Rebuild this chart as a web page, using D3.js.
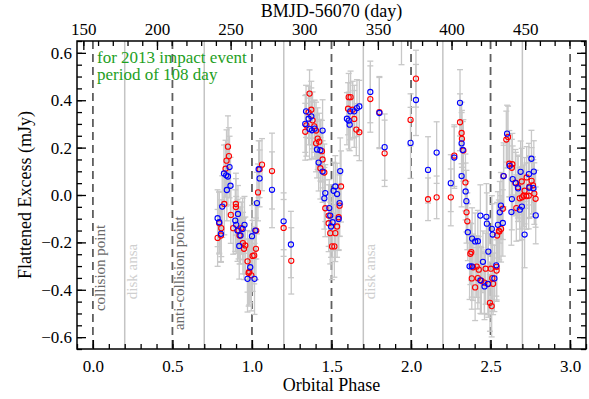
<!DOCTYPE html>
<html>
<head>
<meta charset="utf-8">
<script src="https://cdn.jsdelivr.net/npm/d3@7"></script>
<style>
    body { margin: 0; background: #fff; }
    svg text { font-family: "Liberation Serif", "DejaVu Serif", serif; }
</style>
</head>
<body>
<div id="chart"></div>
<script>
// Light curve points: [orbital phase, flattened excess (mJy), error]
var redPoints = [
    [0.784,-0.181,0.12],[0.794,-0.119,0.13],[0.807,-0.140,0.12],[0.805,-0.171,0.11],[0.826,-0.038,0.13],
    [0.834,0.111,0.12],[0.840,0.145,0.13],[0.855,0.164,0.12],[0.849,0.204,0.13],[0.867,-0.084,0.12],
    [0.899,-0.038,0.13],[0.899,-0.051,0.12],[0.882,-0.140,0.11],[0.916,-0.150,0.12],[0.933,-0.140,0.11],
    [0.922,-0.171,0.12],[0.943,-0.203,0.13],[0.958,-0.213,0.12],[0.950,-0.227,0.13],[0.983,-0.324,0.14],
    [0.996,-0.339,0.15],[0.972,-0.280,0.13],[0.979,-0.329,0.14],[1.004,-0.257,0.15],[1.014,-0.255,0.12],
    [1.025,-0.227,0.13],[1.027,-0.150,0.12],[1.038,0.011,0.12],[1.048,0.109,0.12],[1.063,0.128,0.11],
    [1.126,0.101,0.16],[1.199,-0.139,0.12],[1.247,-0.278,0.14],
    [1.362,0.428,0.10],[1.373,0.360,0.12],[1.356,0.349,0.11],[1.381,0.315,0.12],[1.342,0.294,0.13],
    [1.335,0.267,0.12],[1.392,0.290,0.11],[1.403,0.272,0.12],[1.413,0.238,0.13],[1.423,0.225,0.12],
    [1.403,0.218,0.12],[1.440,0.185,0.13],[1.444,0.150,0.12],[1.430,0.113,0.13],[1.455,0.095,0.12],
    [1.560,0.036,0.15],[1.551,-0.045,0.13],[1.461,-0.056,0.12],[1.482,-0.087,0.13],[1.545,-0.094,0.14],
    [1.482,-0.119,0.12],[1.535,-0.133,0.13],[1.492,-0.161,0.13],[1.524,-0.161,0.12],[1.503,-0.217,0.14],
    [1.518,-0.217,0.13],
    [1.608,0.413,0.10],[1.620,0.413,0.11],[1.604,0.364,0.11],[1.633,0.360,0.12],[1.643,0.321,0.12],
    [1.656,0.276,0.11],[1.675,0.265,0.12],
    [1.744,0.405,0.14],[1.801,0.350,0.15],[1.834,0.176,0.14],[1.940,0.710,0.16],[1.997,0.317,0.11],
    [2.031,0.491,0.12],[2.107,-0.018,0.09],[2.161,-0.010,0.09],[2.250,-0.010,0.12],[2.272,0.166,0.13],
    [2.308,0.307,0.12],[2.318,0.262,0.13],[2.320,0.237,0.12],[2.329,0.188,0.13],[2.342,0.053,0.12],
    [2.349,-0.073,0.13],[2.354,-0.111,0.12],[2.373,-0.248,0.13],[2.379,-0.241,0.12],[2.390,-0.305,0.14],
    [2.413,-0.302,0.13],[2.426,-0.315,0.14],[2.382,-0.352,0.13],[2.403,-0.390,0.14],[2.420,-0.351,0.13],
    [2.442,-0.362,0.14],[2.469,-0.311,0.15],[2.461,-0.370,0.13],[2.486,-0.376,0.14],[2.502,-0.311,0.13],
    [2.511,-0.351,0.14],[2.516,-0.375,0.13],[2.496,-0.455,0.12],[2.507,-0.469,0.13],[2.538,-0.303,0.14],
    [2.538,-0.319,0.13],[2.541,-0.171,0.14],[2.552,-0.151,0.13],[2.566,-0.143,0.14],[2.555,-0.154,0.12],
    [2.577,-0.058,0.13],[2.582,0.080,0.14],[2.599,0.234,0.12],[2.610,0.245,0.13],[2.618,0.132,0.14],
    [2.637,0.130,0.13],[2.634,0.115,0.12],[2.656,0.052,0.14],[2.672,0.033,0.13],[2.662,-0.055,0.14],
    [2.683,-0.014,0.13],[2.696,0.057,0.14],[2.727,0.074,0.13],[2.714,0.018,0.14],[2.708,-0.003,0.13],
    [2.740,-0.003,0.14],[2.744,0.035,0.13],[2.758,0.060,0.14],[2.767,0.041,0.12],[2.775,0.006,0.13],
    [2.783,-0.016,0.12],[2.698,-0.010,0.13],[2.725,-0.005,0.14]
];
var bluePoints = [
    [0.784,-0.098,0.12],[0.794,-0.115,0.13],[0.805,-0.164,0.12],[0.813,-0.049,0.13],[0.824,0.091,0.12],
    [0.838,0.083,0.13],[0.849,0.078,0.12],[0.859,0.118,0.13],[0.865,0.039,0.12],[0.842,0.021,0.13],
    [0.912,-0.080,0.12],[0.895,-0.108,0.13],[0.901,-0.126,0.12],[0.909,-0.150,0.13],[0.953,-0.126,0.12],
    [0.941,-0.143,0.13],[0.928,-0.171,0.12],[0.920,-0.215,0.14],[1.000,-0.174,0.13],[1.021,-0.150,0.12],
    [0.989,-0.305,0.15],[0.972,-0.354,0.14],[1.016,-0.354,0.15],[1.031,-0.034,0.13],[1.042,0.109,0.12],
    [1.048,0.070,0.12],[1.126,0.022,0.16],[1.199,-0.111,0.12],[1.245,-0.209,0.14],
    [1.340,0.353,0.11],[1.373,0.332,0.12],[1.356,0.322,0.11],[1.335,0.300,0.12],[1.362,0.279,0.13],
    [1.377,0.273,0.12],[1.394,0.280,0.12],[1.444,0.272,0.13],[1.409,0.192,0.12],[1.430,0.189,0.13],
    [1.419,0.137,0.12],[1.444,0.099,0.13],[1.555,0.101,0.14],[1.524,0.036,0.13],[1.513,0.018,0.12],
    [1.535,0.004,0.13],[1.461,0.008,0.12],[1.455,-0.014,0.13],[1.551,-0.034,0.14],[1.486,-0.055,0.12],
    [1.492,-0.087,0.13],[1.545,-0.101,0.13],[1.507,-0.115,0.12],[1.497,-0.133,0.13],
    [1.597,0.322,0.11],[1.608,0.314,0.12],[1.614,0.297,0.11],[1.618,0.353,0.12],[1.643,0.353,0.11],
    [1.660,0.367,0.12],[1.675,0.374,0.11],
    [1.744,0.435,0.13],[1.801,0.346,0.15],[1.834,0.202,0.14],[1.997,0.220,0.15],[2.031,0.401,0.15],
    [2.107,0.106,0.14],[2.161,0.179,0.13],[2.250,0.050,0.12],[2.272,0.158,0.13],
    [2.308,0.389,0.14],[2.318,0.218,0.13],[2.325,0.190,0.12],[2.318,0.080,0.13],[2.343,0.015,0.12],
    [2.348,-0.026,0.13],[2.357,-0.157,0.12],[2.384,-0.184,0.13],[2.403,-0.196,0.12],[2.420,-0.195,0.13],
    [2.368,-0.301,0.14],[2.382,-0.301,0.13],[2.436,-0.360,0.14],[2.452,-0.282,0.13],[2.462,-0.386,0.14],
    [2.483,-0.375,0.13],[2.486,-0.239,0.14],[2.436,-0.087,0.13],[2.474,-0.092,0.14],[2.477,-0.121,0.13],
    [2.508,-0.143,0.14],[2.513,-0.167,0.13],[2.524,-0.352,0.14],[2.536,-0.297,0.13],[2.546,-0.126,0.14],
    [2.558,-0.073,0.13],[2.565,-0.045,0.14],[2.582,0.080,0.13],[2.577,-0.118,0.14],[2.604,0.259,0.12],
    [2.620,0.123,0.13],[2.639,0.067,0.14],[2.659,0.050,0.13],[2.673,0.028,0.14],[2.634,-0.017,0.13],
    [2.631,-0.072,0.14],[2.689,0.098,0.13],[2.697,-0.049,0.14],[2.684,-0.062,0.13],[2.714,-0.167,0.14],
    [2.741,0.088,0.13],[2.757,0.153,0.12],[2.772,0.099,0.13],[2.769,0.029,0.12],[2.744,0.031,0.13],
    [2.784,-0.086,0.12]
];

// Reference phases and labels
var collisionPhases = [0, 0.5, 1, 1.5, 2, 2.5, 3];
var ansaPhases = [0.2, 0.7, 1.2, 1.7, 2.2, 2.7];
var phaseNotes = [[0, "collision point", -0.49], [0.2, "disk ansa", -0.44],
                  [0.5, "anti-collision point", -0.57], [1.7, "disk ansa", -0.44]];
var noteLines = ["for 2013 impact event", "period of 108 day"];

// Axis ticks
var phaseTicks = [0, 0.5, 1, 1.5, 2, 2.5, 3];
var dayTicks = [150, 200, 250, 300, 350, 400, 450];
var fluxTicks = [-0.6, -0.4, -0.2, 0, 0.2, 0.4, 0.6];
var period = 108;      // days
var dayZero = 156.5;   // BMJD-56070 at phase 0

var serif = "'Liberation Serif', 'DejaVu Serif', serif";

function init() {
    var w = 589;
    var h = 399;
    var margin = {top: 41, right: 3, bottom: 50, left: 77};
    var iw = w - margin.left - margin.right;
    var ih = h - margin.top - margin.bottom;

    var x = d3.scaleLinear().domain([-0.1, 3.1]).range([0, iw]);
    var xDay = d3.scaleLinear()
        .domain([dayZero - 0.1 * period, dayZero + 3.1 * period])
        .range([0, iw]);
    var y = d3.scaleLinear().domain([-0.65, 0.65]).range([ih, 0]);

    var svg = d3.select("#chart")
        .append("svg")
        .attr("width", w)
        .attr("height", h)
        .attr("font-family", serif);

    var g = svg.append("g")
        .attr("transform", "translate(" + margin.left + "," + margin.top + ")");

    g.append("clipPath").attr("id", "plotclip")
        .append("rect").attr("width", iw).attr("height", ih);

    // Disk ansa lines
    g.selectAll(".ansa")
        .data(ansaPhases)
        .enter()
        .append("line")
        .attr("x1", d => x(d)).attr("x2", d => x(d))
        .attr("y1", 0).attr("y2", ih)
        .style("stroke", "#c4c4c4")
        .style("stroke-width", 1.5);

    // Collision / anti-collision lines
    g.selectAll(".coll")
        .data(collisionPhases)
        .enter()
        .append("line")
        .attr("x1", d => x(d)).attr("x2", d => x(d))
        .attr("y1", 0).attr("y2", ih)
        .style("stroke", "#5f5f5f")
        .style("stroke-width", 1.8)
        .style("stroke-dasharray", "8,5");

    // Rotated notes
    g.selectAll(".note")
        .data(phaseNotes)
        .enter()
        .append("text")
        .attr("transform", d => "translate(" + (x(d[0]) + 12) + "," + y(d[2]) + ") rotate(-90)")
        .style("font-size", "15px")
        .style("fill", d => d[1] === "disk ansa" ? "#cfcfcf" : "#6a6a6a")
        .text(d => d[1]);

    var plot = g.append("g").attr("clip-path", "url(#plotclip)");

    // Error bars for both series
    var allPoints = redPoints.concat(bluePoints);
    var bars = plot.selectAll(".err")
        .data(allPoints)
        .enter()
        .append("g")
        .style("stroke", "#c8c8c8")
        .style("stroke-width", 1.3);
    bars.append("line")
        .attr("x1", d => x(d[0])).attr("x2", d => x(d[0]))
        .attr("y1", d => y(d[1] - d[2])).attr("y2", d => y(d[1] + d[2]));
    bars.append("line")
        .attr("x1", d => x(d[0]) - 3).attr("x2", d => x(d[0]) + 3)
        .attr("y1", d => y(d[1] - d[2])).attr("y2", d => y(d[1] - d[2]));
    bars.append("line")
        .attr("x1", d => x(d[0]) - 3).attr("x2", d => x(d[0]) + 3)
        .attr("y1", d => y(d[1] + d[2])).attr("y2", d => y(d[1] + d[2]));

    // Symbols
    plot.selectAll(".red")
        .data(redPoints)
        .enter()
        .append("circle")
        .attr("cx", d => x(d[0]))
        .attr("cy", d => y(d[1]))
        .attr("r", 2.6)
        .style("fill", "none")
        .style("stroke", "#ff0000")
        .style("stroke-width", 1.1);
    plot.selectAll(".blue")
        .data(bluePoints)
        .enter()
        .append("circle")
        .attr("cx", d => x(d[0]))
        .attr("cy", d => y(d[1]))
        .attr("r", 2.6)
        .style("fill", "none")
        .style("stroke", "#0000ff")
        .style("stroke-width", 1.1);

    // Axes, IDL style with inward ticks
    function minorTicks(lo, hi, step) {
        return d3.range(Math.round(lo / step), Math.round(hi / step) + 1).map(i => i * step);
    }
    function styleAxis(sel) {
        sel.attr("font-family", serif).attr("font-size", 17);
        sel.select(".domain").remove();
        sel.selectAll("line").style("stroke", "#000").style("stroke-width", 1.3);
        sel.selectAll("text").style("fill", "#000");
    }

    g.append("g").attr("transform", "translate(0," + ih + ")")
        .call(d3.axisBottom(x).tickValues(minorTicks(-0.1, 3.1, 0.1)).tickSize(-5).tickFormat(""))
        .call(styleAxis);
    g.append("g").attr("transform", "translate(0," + ih + ")")
        .call(d3.axisBottom(x).tickValues(phaseTicks).tickSizeInner(-9).tickSizeOuter(0)
            .tickPadding(11).tickFormat(d3.format(".1f")))
        .call(styleAxis);

    g.append("g")
        .call(d3.axisTop(xDay).tickValues(minorTicks(150, 490, 10)).tickSize(-5).tickFormat(""))
        .call(styleAxis);
    g.append("g")
        .call(d3.axisTop(xDay).tickValues(dayTicks).tickSizeInner(-9).tickSizeOuter(0)
            .tickPadding(6).tickFormat(d3.format("d")))
        .call(styleAxis);

    g.append("g")
        .call(d3.axisLeft(y).tickValues(minorTicks(-0.65, 0.65, 0.05)).tickSize(-5).tickFormat(""))
        .call(styleAxis);
    g.append("g")
        .call(d3.axisLeft(y).tickValues(fluxTicks).tickSizeInner(-9).tickSizeOuter(0)
            .tickPadding(5).tickFormat(d3.format(".1f")))
        .call(styleAxis);

    g.append("g").attr("transform", "translate(" + iw + ",0)")
        .call(d3.axisRight(y).tickValues(minorTicks(-0.65, 0.65, 0.05)).tickSize(-5).tickFormat(""))
        .call(styleAxis);
    g.append("g").attr("transform", "translate(" + iw + ",0)")
        .call(d3.axisRight(y).tickValues(fluxTicks).tickSize(-9).tickFormat(""))
        .call(styleAxis);

    // Frame
    g.append("rect")
        .attr("width", iw).attr("height", ih)
        .style("fill", "none")
        .style("stroke", "#000")
        .style("stroke-width", 1.5);

    // Titles
    svg.append("text")
        .attr("x", margin.left + iw / 2).attr("y", 17)
        .attr("text-anchor", "middle")
        .style("font-size", "18px")
        .text("BMJD-56070 (day)");
    svg.append("text")
        .attr("x", margin.left + iw / 2).attr("y", 391)
        .attr("text-anchor", "middle")
        .style("font-size", "18px")
        .text("Orbital Phase");
    svg.append("text")
        .attr("transform", "translate(31," + (margin.top + ih / 2) + ") rotate(-90)")
        .attr("text-anchor", "middle")
        .style("font-size", "18px")
        .text("Flattened Excess (mJy)");

    // Legend note, two lines
    svg.selectAll(".legnote")
        .data(noteLines)
        .enter()
        .append("text")
        .attr("x", 97)
        .attr("y", (d, i) => 63 + i * 17)
        .style("font-size", "17px")
        .style("fill", "#1ea01e")
        .text(d => d);
}

window.onload = init;
</script>
</body>
</html>
